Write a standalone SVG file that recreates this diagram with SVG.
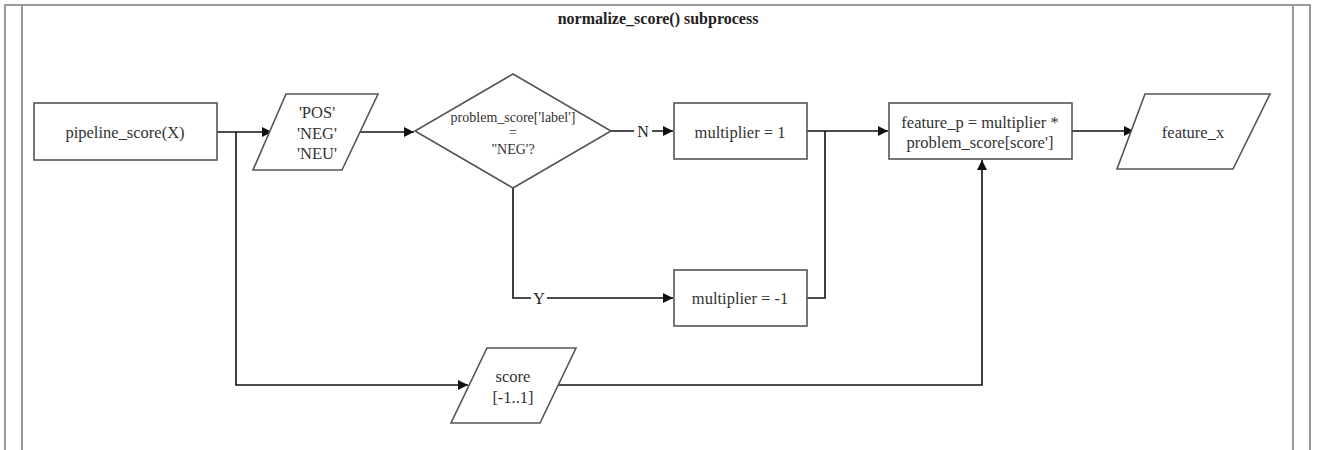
<svg xmlns="http://www.w3.org/2000/svg" width="1319" height="450" viewBox="0 0 1319 450">
<style>
.frame{fill:none;stroke:#999;stroke-width:2}
.node{fill:#fff;stroke:#555;stroke-width:1.6}
.t{font-family:"Liberation Serif",serif;font-size:16.5px;fill:#333;text-anchor:middle;dominant-baseline:central}
.ts{font-family:"Liberation Serif",serif;font-size:14px;fill:#333;text-anchor:middle;dominant-baseline:central}
.title{font-family:"Liberation Serif",serif;font-size:16px;font-weight:bold;fill:#222;text-anchor:middle;dominant-baseline:central}
.edge{fill:none;stroke:#111;stroke-width:1.6}
.lbl{font-family:"Liberation Serif",serif;font-size:16px;fill:#222;text-anchor:middle;dominant-baseline:central}
</style>
<defs>
<marker id="arr" viewBox="0 0 10 10" refX="10" refY="5" markerWidth="10" markerHeight="10" markerUnits="userSpaceOnUse" orient="auto">
<path d="M0,0 L10,5 L0,10 z" fill="#111"/>
</marker>
</defs>
<rect width="1319" height="450" fill="#fff"/>
<g id="frame">
<path class="frame" d="M5,460 V5 H1310 V460"/>
<line class="frame" x1="22" y1="5" x2="22" y2="460"/>
<line class="frame" x1="1293" y1="5" x2="1293" y2="460"/>
<text class="title" x="658" y="18">normalize_score() subprocess</text>
</g>
<g id="connectors">
<path class="edge" d="M217,132 H272" marker-end="url(#arr)"/>
<path class="edge" d="M236,132 V385 H468" marker-end="url(#arr)"/>
<path class="edge" d="M359,132 H414" marker-end="url(#arr)"/>
<path class="edge" d="M611,131 H634 M652,131 H673" marker-end="url(#arr)"/>
<text class="lbl" x="643" y="131">N</text>
<path class="edge" d="M513,188 V298 H531 M547,298 H673" marker-end="url(#arr)"/>
<text class="lbl" x="539" y="298">Y</text>
<path class="edge" d="M807,131 H888" marker-end="url(#arr)"/>
<path class="edge" d="M807,298 H825 V131"/>
<path class="edge" d="M558,385 H982 V160" marker-end="url(#arr)"/>
<path class="edge" d="M1072,131 H1134" marker-end="url(#arr)"/>
</g>
<g id="pipeline_score">
<rect class="node" x="34" y="103" width="183" height="57"/>
<text class="t" x="125" y="132">pipeline_score(X)</text>
</g>
<g id="labels">
<polygon class="node" points="286,94 378,94 342,170 253,170"/>
<text class="t" x="317" y="112">'POS'</text>
<text class="t" x="317" y="133">'NEG'</text>
<text class="t" x="317" y="153">'NEU'</text>
</g>
<g id="decision">
<polygon class="node" points="513,74 611,131 513,188 415,131"/>
<text class="ts" x="513" y="117">problem_score['label']</text>
<text class="ts" x="513" y="132">=</text>
<text class="ts" x="513" y="149">"NEG'?</text>
</g>
<g id="mult_pos">
<rect class="node" x="674" y="103" width="133" height="56"/>
<text class="t" x="740" y="132">multiplier = 1</text>
</g>
<g id="mult_neg">
<rect class="node" x="674" y="270" width="133" height="56"/>
<text class="t" x="740" y="298">multiplier = -1</text>
</g>
<g id="feature_p">
<rect class="node" x="889" y="103" width="183" height="56"/>
<text class="t" x="980" y="122">feature_p = multiplier *</text>
<text class="t" x="980" y="142">problem_score[score']</text>
</g>
<g id="feature_x">
<polygon class="node" points="1145,94 1270,94 1233,169 1117,169"/>
<text class="t" x="1193" y="132">feature_x</text>
</g>
<g id="score">
<polygon class="node" points="487,348 576,348 540,423 451,423"/>
<text class="t" x="513" y="376">score</text>
<text class="t" x="513" y="397">[-1..1]</text>
</g>
</svg>
